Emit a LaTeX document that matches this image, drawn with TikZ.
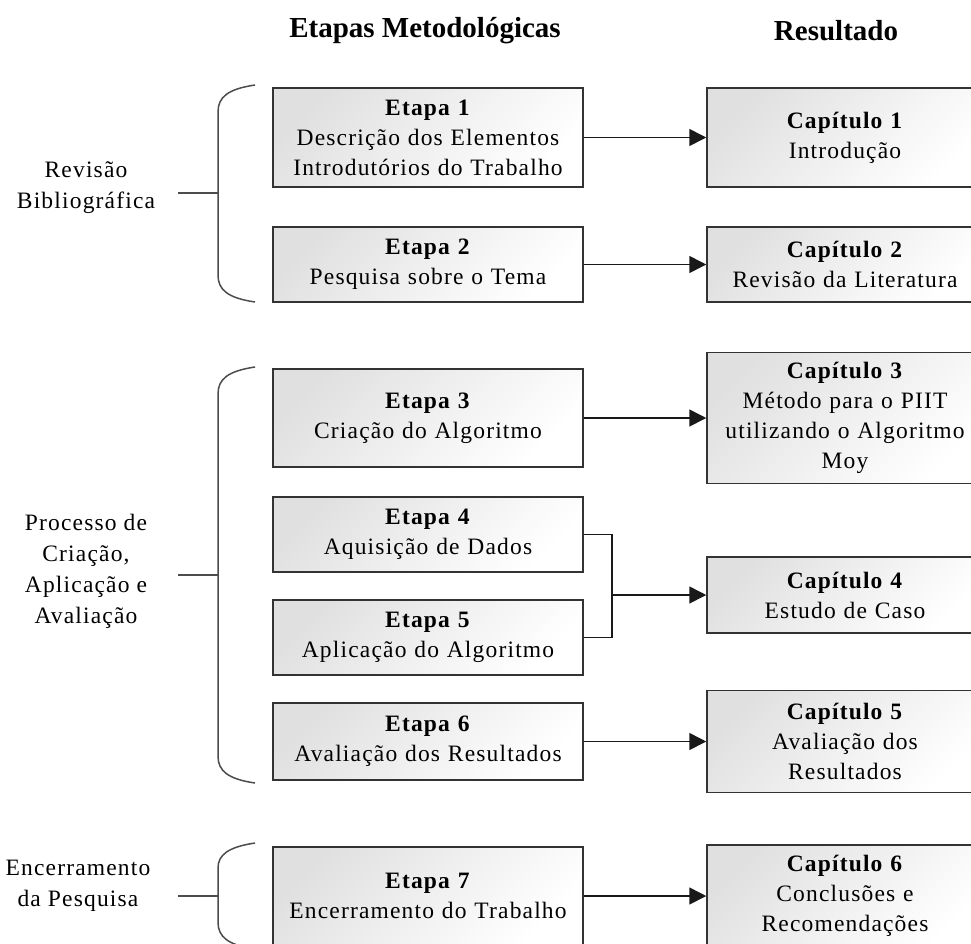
\documentclass[tikz,border=0pt]{standalone}
\usepackage{fontspec}
\setmainfont{Liberation Serif}
\newfontfamily\caixafont[LetterSpace=5]{Liberation Serif}
\usetikzlibrary{positioning, arrows.meta}
\usetikzlibrary{calc}

\tikzset{
  etapa/.style={draw=black!80, line width=1.5pt, top color=black!12, bottom color=white,
    shading angle=45, minimum width=310pt, text width=306pt, align=center, inner sep=0pt,
    font=\caixafont\fontsize{23.5}{30}\selectfont},
  capitulo/.style={etapa, minimum width=276pt, text width=272pt},
  grupo/.style={align=center, font=\caixafont\fontsize{23.5}{31}\selectfont},
  titulo/.style={font=\bfseries\fontsize{29}{34}\selectfont},
  chave/.style={draw=black!70, line width=1.5pt},
  liga/.style={draw=black!90, line width=1.6pt},
  seta/.style={liga, -{Triangle[length=17pt,width=17pt]}}
}

\begin{document}
\begin{tikzpicture}[x=1pt, y=-1pt, node distance=127pt, on grid]
  \useasboundingbox (0,0) rectangle (971,943);

  \node[titulo] (h1) at (425,31) {Etapas Metodológicas};
  \node[titulo] (h2) [right=411pt of h1] {Resultado};

  % etapas
  \node[etapa, minimum height=99pt] (e1) at (428,137.5) {\textbf{Etapa 1}\\Descrição dos Elementos\\Introdutórios do Trabalho};
  \node[etapa, minimum height=75pt] (e2) [below=127pt of e1] {\textbf{Etapa 2}\\Pesquisa sobre o Tema};
  \node[etapa, minimum height=98pt] (e3) [below=153.5pt of e2] {\textbf{Etapa 3}\\Criação do Algoritmo};
  \node[etapa, minimum height=75pt] (e4) [below=116.5pt of e3] {\textbf{Etapa 4}\\Aquisição de Dados};
  \node[etapa, minimum height=75pt] (e5) [below=103pt of e4] {\textbf{Etapa 5}\\Aplicação do Algoritmo};
  \node[etapa, minimum height=77pt] (e6) [below=104pt of e5] {\textbf{Etapa 6}\\Avaliação dos Resultados};
  \node[etapa, minimum height=98pt] (e7) [below=154.5pt of e6] {\textbf{Etapa 7}\\Encerramento do Trabalho};

  % capitulos
  \node[capitulo, minimum height=99pt] (c1) [right=417pt of e1] {\textbf{Capítulo 1}\\Introdução};
  \node[capitulo, minimum height=75pt] (c2) [right=417pt of e2] {\textbf{Capítulo 2}\\Revisão da Literatura};
  \node[capitulo, minimum height=131pt] (c3) [right=417pt of e3] {\textbf{Capítulo 3}\\Método para o PIIT\\utilizando o Algoritmo\\Moy};
  \node[capitulo, minimum height=76pt] (c4) [below=177pt of c3] {\textbf{Capítulo 4}\\Estudo de Caso};
  \node[capitulo, minimum height=102pt] (c5) [right=417pt of e6] {\textbf{Capítulo 5}\\Avaliação dos\\Resultados};
  \node[capitulo, minimum height=102pt] (c6) [right=417pt of e7] {\textbf{Capítulo 6}\\Conclusões e\\Recomendações};

  % grupos
  \node[grupo] (g1) at (86,188) {Revisão\\Bibliográfica};
  \node[grupo] (g2) at (86,571) {Processo de\\Criação,\\Aplicação e\\Avaliação};
  \node[grupo] (g3) at (78,886) {Encerramento\\da Pesquisa};

  % chaves
  \coordinate (k1) at (218,193);
  \coordinate (k2) at (218,575);
  \coordinate (k3) at (218,896);
  \draw[chave] (255,85) .. controls (228,89) and (218,97) .. (218,112) -- (218,275)
    .. controls (218,290) and (228,298) .. (255,302);
  \draw[chave] (255,367) .. controls (228,371) and (218,379) .. (218,394) -- (218,756)
    .. controls (218,771) and (228,779) .. (255,783);
  \draw[chave] (255,843) .. controls (228,847) and (218,855) .. (218,868) -- (218,922)
    .. controls (218,937) and (228,945) .. (255,949);
  \draw[chave] (k1) -- ++(-40,0);
  \draw[chave] (k2) -- ++(-40,0);
  \draw[chave] (k3) -- ++(-40,0);

  % setas
  \draw[seta] (e1) -- (c1);
  \draw[seta] (e2) -- (c2);
  \draw[seta] (e3) -- (c3);
  \coordinate (jn) at (612,595);
  \draw[liga] (e4.east) -| (jn) |- (e5.east);
  \draw[seta] (jn) -- (c4);
  \draw[seta] (e6) -- (c5);
  \draw[seta] (e7) -- (c6);
\end{tikzpicture}
\end{document}
